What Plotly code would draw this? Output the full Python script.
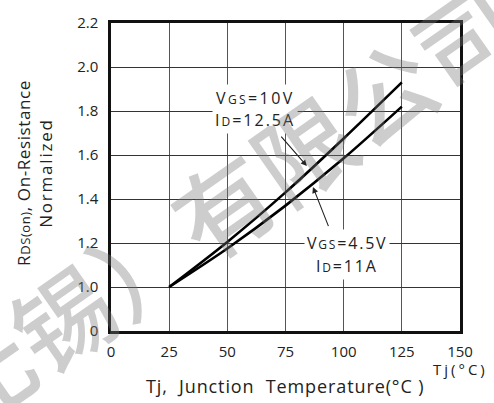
import plotly.graph_objects as go

# Junction temperature (°C) and normalized RDS(on) for the two bias conditions
tj = [25, 50, 75, 100, 125]
rds_vgs10 = [1.00, 1.205, 1.43, 1.675, 1.93]
rds_vgs45 = [1.00, 1.175, 1.37, 1.585, 1.82]

x_ticks = [0, 25, 50, 75, 100, 125, 150]
y_tick_values = [0, 1.0, 1.2, 1.4, 1.6, 1.8, 2.0, 2.2]
y_tick_labels = ["0", "1.0", "1.2", "1.4", "1.6", "1.8", "2.0", "2.2"]


def ypos(r):
    """Broken y scale: 0 sits one grid step below 1.0, above that 0.2 per step."""
    return 0.0 if r == 0 else (r - 0.8) / 0.2


FONT = "Open Sans, Noto Sans, sans-serif"


def tracked(s, px):
    return "<span style='letter-spacing:{}px'>{}</span>".format(px, s)


def small(s, size=12):
    return "<span style='font-size:{}px'>{}</span>".format(size, s)


fig = go.Figure()
for series in (rds_vgs10, rds_vgs45):
    fig.add_trace(go.Scatter(
        x=tj, y=[ypos(v) for v in series], mode="lines",
        line=dict(color="black", width=2.6, shape="spline", smoothing=0.8),
        showlegend=False, hoverinfo="skip"))

annotations = [
    # curve labels on white patches
    dict(x=62, y=ypos(1.857), text=tracked("V" + small("GS") + "=10V", 2.4)),
    dict(x=62, y=ypos(1.757), text=tracked("I" + small("D") + "=12.5A", 2.0)),
    dict(x=101.5, y=ypos(1.199), text=tracked("V" + small("GS") + "=4.5V", 1.8)),
    dict(x=101.5, y=ypos(1.097), text=tracked("I" + small("D") + "=11A", 1.8)),
]
for a in annotations:
    a.update(xref="x", yref="y", showarrow=False, bgcolor="white",
             borderpad=2, font=dict(family=FONT, size=16, color="#222"))

# pointer arrows
annotations += [
    dict(x=84.2, y=ypos(1.55), ax=72.6, ay=ypos(1.69), axref="x", ayref="y",
         xref="x", yref="y", text="", showarrow=True, arrowhead=2,
         arrowsize=1.1, arrowwidth=1.1, arrowcolor="#222"),
    dict(x=86.8, y=ypos(1.455), ax=93.7, ay=ypos(1.27), axref="x", ayref="y",
         xref="x", yref="y", text="", showarrow=True, arrowhead=2,
         arrowsize=1.1, arrowwidth=1.1, arrowcolor="#222"),
]

# axis titles
annotations += [
    dict(x=-0.218, y=0.513, xref="paper", yref="paper", textangle=-90,
         xanchor="center", yanchor="middle",
         text=tracked("R" + small("DS(on)", 13) + ", On-Resistance", 0.6)
         + "<br>" + tracked("Normalized", 1.8),
         showarrow=False, font=dict(family=FONT, size=17, color="#222")),
    dict(x=0.5, y=-0.18, xref="paper", yref="paper",
         xanchor="center", yanchor="middle",
         text=tracked("Tj,  Junction  Temperature(°C )", 0.9), showarrow=False,
         font=dict(family=FONT, size=18, color="#222")),
    dict(x=150, y=-0.123, xref="x", yref="paper",
         xanchor="center", yanchor="middle",
         text=tracked("Tj(°C)", 3), showarrow=False,
         font=dict(family=FONT, size=15, color="#222")),
]

# faint diagonal watermark
annotations.append(dict(
    x=0.2, y=0.325, xref="paper", yref="paper", textangle=-35,
    xanchor="center", yanchor="middle",
    text="（无锡）有限公司", showarrow=False,
    font=dict(family="Noto Sans CJK SC", size=98, weight=500,
              color="rgba(120,120,120,0.37)")))

fig.update_layout(
    width=494, height=403,
    margin=dict(l=111, r=34, t=15, b=72),
    paper_bgcolor="white", plot_bgcolor="white",
    annotations=annotations,
    font=dict(family=FONT, size=15, color="#222"),
    xaxis=dict(range=[0, 150], tickvals=x_ticks,
               ticktext=[str(v) for v in x_ticks],
               showgrid=True, gridcolor="#555", gridwidth=1,
               showline=True, mirror=True, linecolor="#111", linewidth=2.5,
               ticks="", ticklabelstandoff=5, zeroline=False,
               tickfont=dict(family=FONT, size=15, color="#222")),
    yaxis=dict(range=[0, 7], tickvals=[ypos(v) for v in y_tick_values],
               ticktext=y_tick_labels,
               showgrid=True, gridcolor="#333", gridwidth=1,
               showline=True, mirror=True, linecolor="#111", linewidth=2.5,
               ticks="", ticklabelstandoff=7, zeroline=False,
               tickfont=dict(family=FONT, size=15, color="#222")),
)

fig.write_html("out.html")
